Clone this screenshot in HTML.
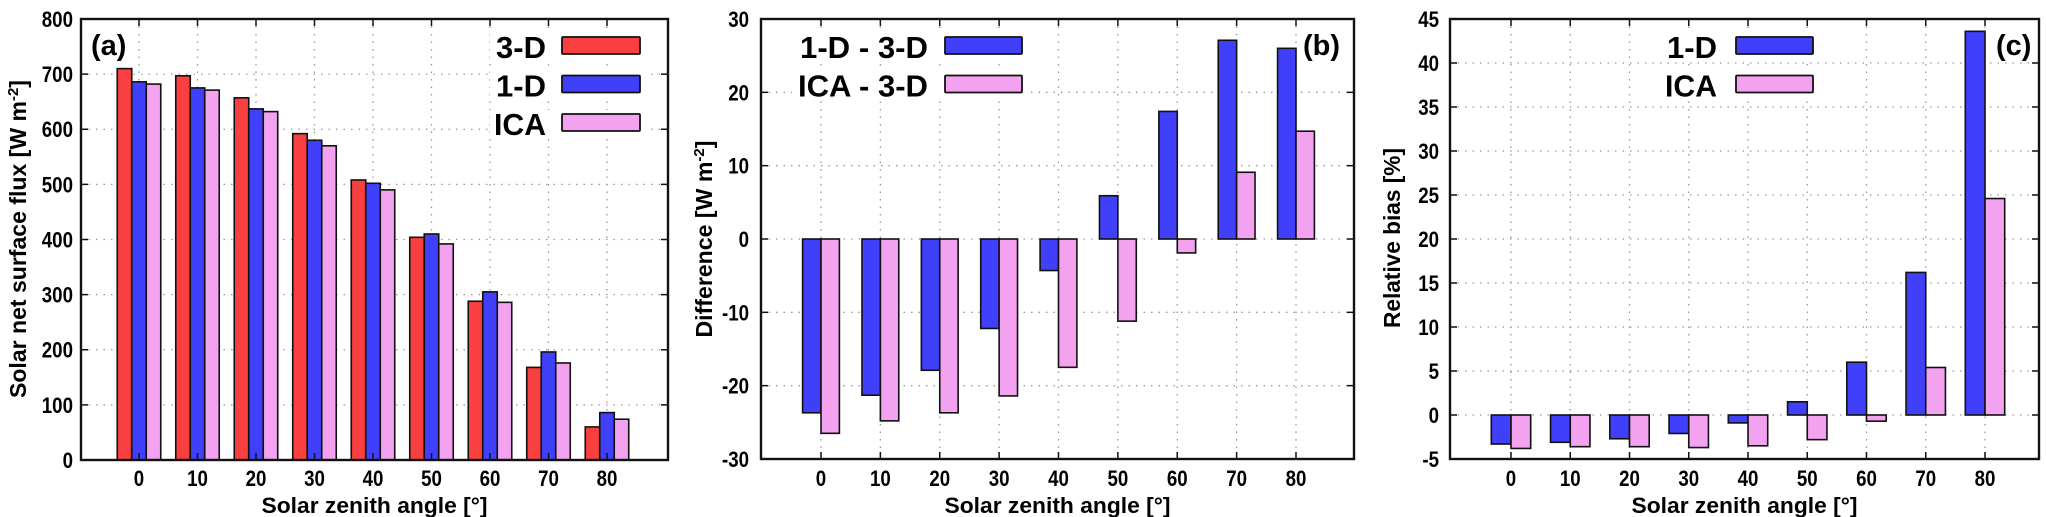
<!DOCTYPE html>
<html><head><meta charset="utf-8"><style>
html,body{margin:0;padding:0;background:#fff;}
svg{display:block;font-family:"Liberation Sans",Arial,sans-serif;font-weight:bold;}
</style></head><body>
<svg id="fig" width="2046" height="517" viewBox="0 0 2046 517" xmlns="http://www.w3.org/2000/svg"></svg>
<script>
const categories = ["0","10","20","30","40","50","60","70","80"];
// Panel (a)
const fluxTicks = [0,100,200,300,400,500,600,700,800];
const flux3D = [710,697,657,592,508,404,288,168,60];
const flux1D = [686,675,637,580,502,410,305,196,86];
const fluxICA = [682,671,632,570,490,392,286,176,74];
// Panel (b)
const diffTicks = [-30,-20,-10,0,10,20,30];
const diff1D = [-23.7,-21.3,-17.9,-12.2,-4.3,5.9,17.4,27.1,26.0];
const diffICA = [-26.5,-24.8,-23.7,-21.4,-17.5,-11.2,-1.9,9.1,14.7];
// Panel (c)
const biasTicks = [-5,0,5,10,15,20,25,30,35,40,45];
const bias1D = [-3.3,-3.1,-2.7,-2.1,-0.9,1.5,6.0,16.2,43.6];
const biasICA = [-3.8,-3.6,-3.6,-3.7,-3.5,-2.8,-0.7,5.4,24.6];

const NS="http://www.w3.org/2000/svg";
const svg=document.getElementById('fig');
const RED="#f84040", BLUE="#4040fa", PINK="#f2a2ee";
function mk(tag,attrs,parent){const e=document.createElementNS(NS,tag);for(const k in attrs)e.setAttribute(k,attrs[k]);(parent||svg).appendChild(e);return e;}

function panel(cfg){
  const g=mk('g',{});
  
  
  const {L,R,T,B,ymin,ymax}=cfg;
  const y=v=>B-(v-ymin)/(ymax-ymin)*(B-T);
  const x=i=>cfg.x0+i*(cfg.x8-cfg.x0)/8;
  cfg.ticks.forEach(t=>{
    const ln=mk('line',{x1:L,x2:R,y1:y(t),y2:y(t),stroke:"#999","stroke-width":1.3,"stroke-dasharray":"1.5,6"},g);
    
    
  });
  categories.forEach((c,i)=>{
    const ln=mk('line',{x1:x(i),x2:x(i),y1:T,y2:B,stroke:"#999","stroke-width":1.3,"stroke-dasharray":"1.5,6"},g);
    
    
  });
  const n=cfg.series.length, bw=cfg.bw;
  cfg.series.forEach((s,si)=>{
    s.vals.forEach((v,i)=>{
      const bx=x(i)-n*bw/2+si*bw;
      const y1=y(v);
      const base=y(0>ymin?0:ymin);
      const r=mk('rect',{x:bx,y:Math.min(base,y1),width:bw,height:Math.abs(base-y1),fill:s.color,stroke:"#111","stroke-width":1.6},g);
      
      
    });
  });
  cfg.legend.forEach((l,li)=>{
    const yy=37+li*38.5;
    mk('rect',{x:cfg.legTextR-cfg.legTextW-4,y:yy-4,width:cfg.legBoxR-cfg.legTextR+cfg.legTextW+10,height:27,fill:"#fff"},g);
    const t=mk('text',{x:cfg.legTextR,y:yy+21,"text-anchor":"end","font-size":31,textLength:cfg.legW[li],lengthAdjust:"spacingAndGlyphs"},g);
    t.textContent=l.label;
    
    
    const b=mk('rect',{x:cfg.legBoxL,y:yy,width:cfg.legBoxR-cfg.legBoxL,height:17,fill:l.color,stroke:"#111","stroke-width":1.8,rx:1},g);
    
    
  });
  const fr=mk('rect',{x:L,y:T,width:R-L,height:B-T,fill:"none",stroke:"#111","stroke-width":2.4},g);
  
  
  cfg.ticks.forEach(t=>{
    mk('line',{x1:L,x2:L+7,y1:y(t),y2:y(t),stroke:"#111","stroke-width":1.5},g);
    mk('line',{x1:R,x2:R-7,y1:y(t),y2:y(t),stroke:"#111","stroke-width":1.5},g);
    const tx=mk('text',{x:cfg.tickR,y:y(t)+8,"text-anchor":"end","font-size":22,transform:`translate(${cfg.tickR},0) scale(0.85,1) translate(${-cfg.tickR},0)`},g);
    tx.textContent=String(t);
    
    
  });
  categories.forEach((c,i)=>{
    mk('line',{x1:x(i),x2:x(i),y1:B,y2:B-7,stroke:"#111","stroke-width":1.5},g);
    mk('line',{x1:x(i),x2:x(i),y1:T,y2:T+7,stroke:"#111","stroke-width":1.5},g);
    const tx=mk('text',{x:x(i),y:486,"text-anchor":"middle","font-size":22,transform:`translate(${x(i)},0) scale(0.85,1) translate(${-x(i)},0)`},g);
    tx.textContent=c;
    
    
  });
  const xt=mk('text',{x:(L+R)/2,y:513,"text-anchor":"middle","font-size":22,textLength:226,lengthAdjust:"spacingAndGlyphs"},g);
  xt.textContent="Solar zenith angle [°]";
  
  
  const yt=mk('text',{x:0,y:0,"text-anchor":"middle","font-size":23,transform:`translate(${cfg.ytX},${cfg.ytY}) rotate(-90)`},g);
  yt.innerHTML=cfg.ytitle;
  yt.setAttribute('textLength',cfg.ytLen);
  yt.setAttribute('lengthAdjust','spacingAndGlyphs');
  
  
  const pl=mk('text',{x:cfg.plX,y:55,"font-size":29},g);
  pl.textContent=cfg.plabel;
  
  
}

panel({name:'panel-a-flux',L:81,R:668,T:19,B:460,ymin:0,ymax:800,ticks:fluxTicks,x0:139,x8:607,bw:14.5,
  series:[{key:'3d',vals:flux3D,color:RED},{key:'1d',vals:flux1D,color:BLUE},{key:'ica',vals:fluxICA,color:PINK}],
  legend:[{label:'3-D',color:RED},{label:'1-D',color:BLUE},{label:'ICA',color:PINK}],legW:[50,50,52],
  legTextR:546,legTextW:52,legBoxL:562,legBoxR:640,tickR:73,ytX:26,ytY:239,ytLen:318,
  ytitle:'Solar net surface flux [W m<tspan dy="-8" font-size="15">-2</tspan><tspan dy="8">]</tspan>',
  plabel:'(a)',plX:91});
panel({name:'panel-b-difference',L:761,R:1354,T:19,B:459,ymin:-30,ymax:30,ticks:diffTicks,x0:821,x8:1296,bw:18.4,
  series:[{key:'1d-minus-3d',vals:diff1D,color:BLUE},{key:'ica-minus-3d',vals:diffICA,color:PINK}],
  legend:[{label:'1-D - 3-D',color:BLUE},{label:'ICA - 3-D',color:PINK}],legW:[128,130],
  legTextR:928,legTextW:132,legBoxL:945,legBoxR:1022,tickR:749,ytX:712,ytY:239,ytLen:197,
  ytitle:'Difference [W m<tspan dy="-8" font-size="15">-2</tspan><tspan dy="8">]</tspan>',
  plabel:'(b)',plX:1303});
panel({name:'panel-c-relative-bias',L:1450,R:2039,T:19,B:459,ymin:-5,ymax:45,ticks:biasTicks,x0:1511,x8:1985,bw:19.7,
  series:[{key:'1d',vals:bias1D,color:BLUE},{key:'ica',vals:biasICA,color:PINK}],
  legend:[{label:'1-D',color:BLUE},{label:'ICA',color:PINK}],legW:[50,52],
  legTextR:1717,legTextW:54,legBoxL:1736,legBoxR:1813,tickR:1439,ytX:1400,ytY:238,ytLen:180,
  ytitle:'Relative bias [%]',
  plabel:'(c)',plX:1996});
</script>
</body></html>
